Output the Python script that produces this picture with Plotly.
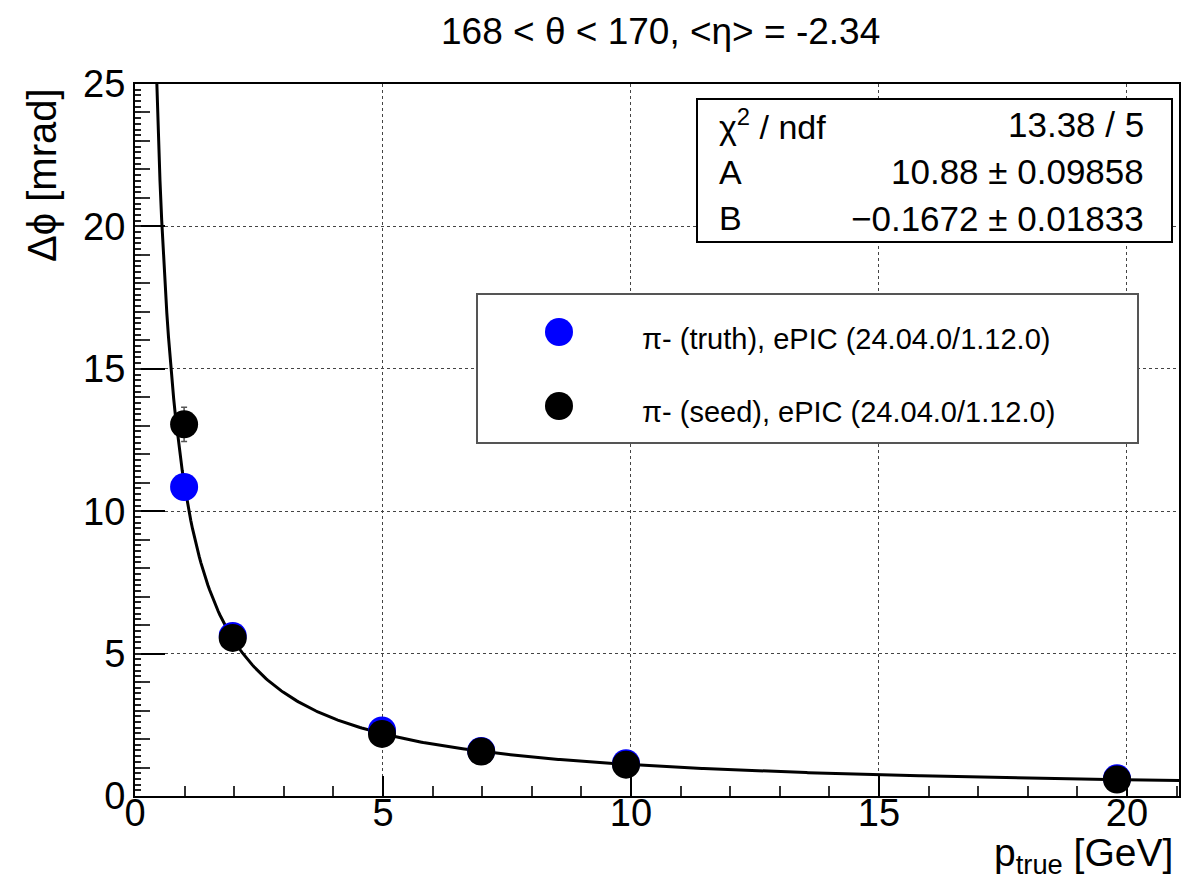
import numpy as np
import plotly.graph_objects as go

# ---------------- data ----------------
p_truth = [0.99, 1.97, 4.98, 6.98, 9.9, 19.8]
dphi_truth = [10.85, 5.62, 2.3, 1.58, 1.15, 0.62]
err_truth = [0.15, 0.06, 0.03, 0.02, 0.02, 0.01]

p_seed = [0.99, 1.97, 4.98, 6.98, 9.9, 19.8]
dphi_seed = [13.05, 5.55, 2.18, 1.56, 1.1, 0.58]
err_seed = [0.6, 0.1, 0.05, 0.04, 0.03, 0.02]

fit_A = 10.88
fit_A_err = 0.09858
fit_B = -0.1672
fit_B_err = 0.01833
chi2_txt = "13.38 / 5"

legend_labels = ["π- (truth), ePIC (24.04.0/1.12.0)", "π- (seed), ePIC (24.04.0/1.12.0)"]
title_txt = "168 < θ < 170, <η> = -2.34"

# ---------------- geometry ----------------
W, H = 1204, 886
L, R, T, B = 135, 1179, 84, 796
XMAX, YMAX = 21.05, 25


def px(x):
    return (x - L) / (R - L)


def py(y):
    return (B - y) / (B - T)


FONT = "Liberation Sans, Arial, Helvetica, sans-serif"

fig = go.Figure()

# fit curve
pf = np.linspace(0.40, XMAX, 600)
ff = np.sqrt((fit_A / pf) ** 2 + fit_B ** 2)
fig.add_trace(go.Scatter(x=pf, y=ff, mode="lines", line=dict(color="black", width=3),
                         showlegend=False, hoverinfo="skip"))

fig.add_trace(go.Scatter(x=p_truth, y=dphi_truth, mode="markers",
                         marker=dict(color="#0000ff", size=28, line=dict(width=0)),
                         error_y=dict(type="data", array=err_truth, color="#0000ff", thickness=1.5, width=3),
                         name=legend_labels[0], showlegend=False))
fig.add_trace(go.Scatter(x=p_seed, y=dphi_seed, mode="markers",
                         marker=dict(color="black", size=28, line=dict(width=0)),
                         error_y=dict(type="data", array=err_seed, color="#555555", thickness=1.5, width=3),
                         name=legend_labels[1], showlegend=False))

grid = dict(showgrid=True, gridcolor="#444444", gridwidth=1, griddash="dot")

fig.update_layout(
    width=W, height=H,
    margin=dict(l=L, r=W - R, t=T, b=H - B),
    paper_bgcolor="white", plot_bgcolor="white",
    font=dict(family=FONT, color="black"),
    showlegend=False,
    xaxis=dict(range=[0, XMAX], dtick=5, tick0=0, ticks="inside", ticklen=20, tickwidth=2,
               tickcolor="black", showline=True, linecolor="black", linewidth=2, mirror=True,
               zeroline=False, showticklabels=False,
               minor=dict(dtick=1, ticks="inside", ticklen=10, tickwidth=2, tickcolor="#333333", showgrid=False),
               **grid),
    # label-carrying x axis, placed slightly above the frame so labels sit close to it (ROOT style)
    xaxis2=dict(range=[0, XMAX], overlaying="x", anchor="free", position=py(787), side="bottom",
                dtick=5, tick0=0, ticks="", showline=False, showgrid=False, zeroline=False,
                tickfont=dict(size=38, family=FONT)),
    yaxis=dict(range=[0, YMAX], dtick=5, tick0=0, ticks="inside", ticklen=30, tickwidth=2,
               tickcolor="black", showline=True, linecolor="black", linewidth=2, mirror=True,
               zeroline=False, tickfont=dict(size=38, family=FONT),
               minor=dict(dtick=1, ticks="inside", ticklen=15, tickwidth=2, tickcolor="#333333", showgrid=False),
               **grid),
    yaxis2=dict(range=[0, YMAX], overlaying="y", anchor="x", side="left", dtick=0.2, tick0=0,
                ticks="inside", ticklen=6, tickwidth=1.5, tickcolor="#222222",
                showticklabels=False, showgrid=False, zeroline=False, showline=False),
)
# empty traces so the auxiliary axes are drawn
fig.add_trace(go.Scatter(x=[None], y=[None], yaxis="y2", showlegend=False, hoverinfo="skip"))
fig.add_trace(go.Scatter(x=[None], y=[None], xaxis="x2", showlegend=False, hoverinfo="skip"))

# title
fig.add_annotation(text=title_txt, xref="paper", yref="paper", x=px(660), y=py(31),
                   xanchor="center", yanchor="middle", showarrow=False,
                   font=dict(size=37, family=FONT))

# axis titles
fig.add_annotation(text="p<sub>true</sub> [GeV]", xref="paper", yref="paper", x=px(1175), y=py(855),
                   xanchor="right", yanchor="middle", showarrow=False,
                   font=dict(size=39, family=FONT))
fig.add_annotation(text="Δϕ [mrad]", xref="paper", yref="paper", x=px(42), y=py(86),
                   xanchor="center", yanchor="top", textangle=-90, showarrow=False,
                   font=dict(size=40, family=FONT))

# stats box
fig.add_shape(type="rect", xref="paper", yref="paper", x0=px(697), x1=px(1172), y0=py(242), y1=py(99),
              line=dict(color="black", width=2), fillcolor="white", layer="above")
rows = [("χ<sup>2</sup> / ndf", chi2_txt),
        ("A", f"{fit_A:.2f} ± {fit_A_err}"),
        ("B", f"−{abs(fit_B):.4f} ± {fit_B_err}")]
for i, (lab, val) in enumerate(rows):
    yy = py(125 + 46.7 * i)
    fig.add_annotation(text=lab, xref="paper", yref="paper", x=px(717), y=yy, xanchor="left",
                       yanchor="middle", showarrow=False, font=dict(size=34, family=FONT))
    fig.add_annotation(text=val, xref="paper", yref="paper", x=px(1146), y=yy, xanchor="right",
                       yanchor="middle", showarrow=False, font=dict(size=35, family=FONT))

# legend box
fig.add_shape(type="rect", xref="paper", yref="paper", x0=px(477), x1=px(1138), y0=py(443), y1=py(294),
              line=dict(color="#555555", width=2), fillcolor="white", layer="above")
leg_colors = ["#0000ff", "black"]
leg_y = [332, 406]
leg_text_y = [339, 412]
for lab, col, yy, ty in zip(legend_labels, leg_colors, leg_y, leg_text_y):
    fig.add_shape(type="circle", xref="paper", yref="paper", xsizemode="pixel", ysizemode="pixel",
                  xanchor=px(559), yanchor=py(yy), x0=-14, x1=14, y0=-14, y1=14,
                  fillcolor=col, line=dict(width=0), layer="above")
    fig.add_annotation(text=lab, xref="paper", yref="paper", x=px(640), y=py(ty), xanchor="left",
                       yanchor="middle", showarrow=False, font=dict(size=29, family=FONT))

fig.write_html("out.html")
